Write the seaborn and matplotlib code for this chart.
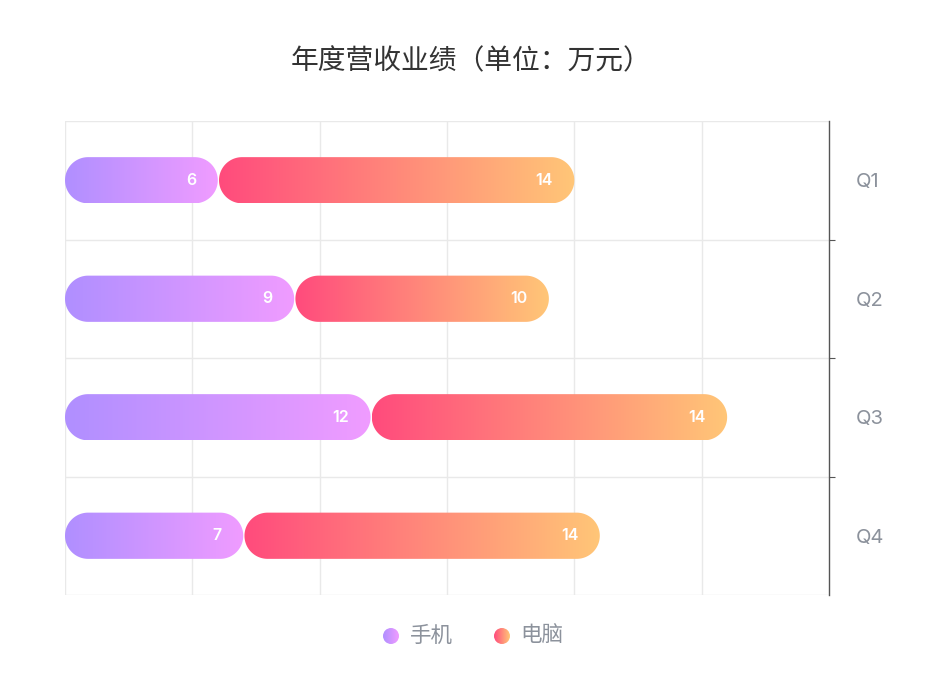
import numpy as np
import pandas as pd
import seaborn as sns
import matplotlib.pyplot as plt
from matplotlib.colors import LinearSegmentedColormap
from matplotlib.patches import Polygon, Circle

quarters = ["Q1", "Q2", "Q3", "Q4"]
phone = [6, 9, 12, 7]
computer = [14, 10, 14, 14]
series_names = ["手机", "电脑"]

phone_cmap = LinearSegmentedColormap.from_list("phone", ["#b08fff", "#f09cff"])
pc_cmap = LinearSegmentedColormap.from_list("pc", ["#ff4b7d", "#ffc677"])

sns.set_theme(style="white")
plt.rcParams["font.family"] = ["Inter", "Noto Sans CJK SC", "DejaVu Sans"]

df = pd.DataFrame({"quarter": quarters, "phone": phone, "computer": computer})
df["total"] = df["phone"] + df["computer"]

fig = plt.figure(figsize=(9.5, 7), dpi=100)
ax = fig.add_axes([65 / 950, 1 - 595 / 700, 764 / 950, 474 / 700])

# seaborn bars set up the categorical axis and bar geometry (hidden afterwards)
sns.barplot(data=df, y="quarter", x="total", orient="h", width=0.39,
            errorbar=None, ax=ax)
sns.barplot(data=df, y="quarter", x="phone", orient="h", width=0.39,
            errorbar=None, ax=ax)

ax.set_xlim(0, 30)
ax.set_ylim(3.5, -0.5)
xlim, ylim = ax.get_xlim(), ax.get_ylim()

bbox = ax.get_window_extent()
x_per_px = 30 / bbox.width
y_per_px = 4 / bbox.height

patches = list(ax.patches)
for p in patches:
    p.set_visible(False)
total_bars = patches[:4]
phone_bars = patches[4:8]


def pill(x0, x1, yc, h, cmap, label):
    ry = h / 2
    rx = ry / y_per_px * x_per_px
    t_left = np.linspace(np.pi / 2, 3 * np.pi / 2, 60)
    t_right = np.linspace(-np.pi / 2, np.pi / 2, 60)
    left = np.column_stack([x0 + rx + rx * np.cos(t_left), yc + ry * np.sin(t_left)])
    right = np.column_stack([x1 - rx + rx * np.cos(t_right), yc + ry * np.sin(t_right)])
    shape = Polygon(np.vstack([left, right]), closed=True,
                    facecolor="none", edgecolor="none", zorder=3)
    ax.add_patch(shape)
    grad = np.linspace(0, 1, 256).reshape(1, -1)
    im = ax.imshow(grad, cmap=cmap, aspect="auto", interpolation="bicubic",
                   extent=[x0, x1, yc + h / 2, yc - h / 2], zorder=3)
    im.set_clip_path(shape)
    ax.annotate(str(label), (x1, yc), xytext=(-15.5, 0), textcoords="offset points",
                ha="right", va="center", color="white", fontsize=11.5,
                fontweight="semibold", zorder=4)


gap = 1.2 * x_per_px
for i in range(4):
    pb = phone_bars[i]
    yc = pb.get_y() + pb.get_height() / 2
    h = pb.get_height()
    pill(0, phone[i], yc, h, phone_cmap, phone[i])
    pill(phone[i] + gap, phone[i] + computer[i], yc, h, pc_cmap, computer[i])

ax.set_xlim(xlim)
ax.set_ylim(ylim)

# grid and frame
ax.set_xticks(np.arange(0, 31, 5))
ax.set_xticklabels([])
ax.set_yticks(range(4))
ax.set_yticks([0.5, 1.5, 2.5], minor=True)
ax.yaxis.tick_right()
ax.tick_params(axis="x", length=0)
ax.tick_params(axis="y", which="major", length=0, pad=19, labelsize=14.5,
               labelcolor="#8c929c")
ax.tick_params(axis="y", which="minor", length=4, width=0.8, color="#555555",
               right=True, left=False)
ax.set_xlabel("")
ax.set_ylabel("")
for y in [-0.5, 0.5, 1.5, 2.5, 3.5]:
    ax.axhline(y, color="#e9e9e9", lw=1, zorder=1)
for x in np.arange(0, 30, 5):
    ax.axvline(x, color="#e9e9e9", lw=1, zorder=1)
for side in ["top", "bottom", "left"]:
    ax.spines[side].set_visible(False)
ax.spines["right"].set_color("#555555")
ax.spines["right"].set_linewidth(1)

fig.text(471.5 / 950, 1 - 62 / 700, "年度营收业绩（单位：万元）", ha="center",
         va="center", fontsize=20, color="#333333")

# legend with gradient dots
lax = fig.add_axes([0, 0, 1, 1], zorder=5)
lax.axis("off")
lax.patch.set_alpha(0)
for cx, tx, cmap, name in [(391, 410, phone_cmap, series_names[0]),
                           (502, 520, pc_cmap, series_names[1])]:
    circ = Circle((cx, 636), 8, facecolor="none", edgecolor="none")
    lax.add_patch(circ)
    g = lax.imshow(np.linspace(0, 1, 64).reshape(1, -1), cmap=cmap, aspect="auto",
                   extent=[cx - 8, cx + 8, 644, 628], interpolation="bicubic")
    g.set_clip_path(circ)
    lax.text(tx, 636, name, ha="left", va="center", fontsize=15.5, color="#8c929c")
lax.set_xlim(0, 950)
lax.set_ylim(700, 0)

fig.savefig("out.png", dpi=100)
